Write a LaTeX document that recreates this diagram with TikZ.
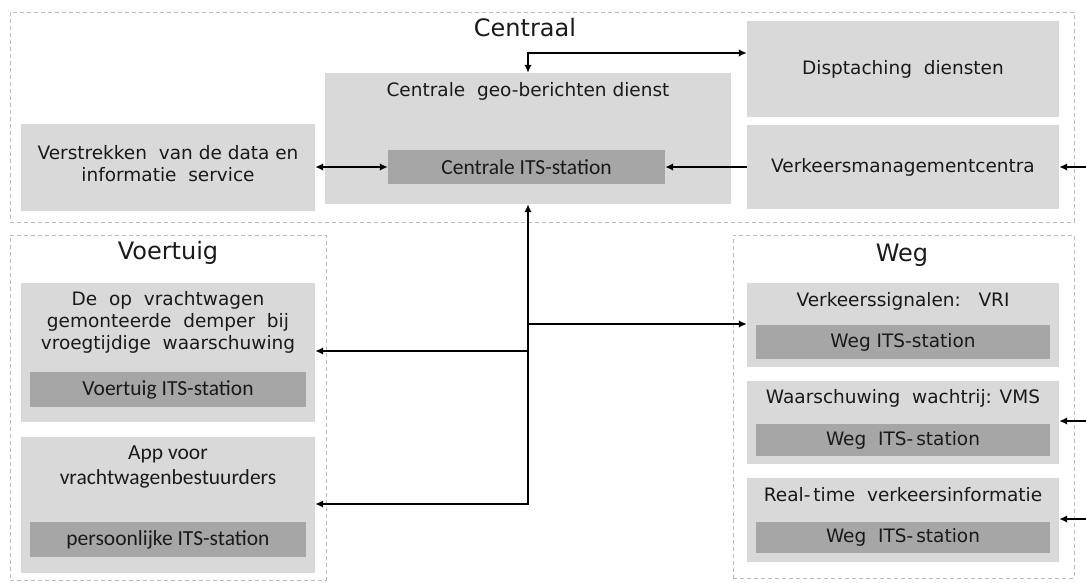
\documentclass[tikz,border=0pt]{standalone}
\usepackage{fontspec}
\setmainfont{DejaVu Sans}
\newfontfamily\calfont{Carlito}
\usetikzlibrary{arrows.meta}
\definecolor{boxgray}{HTML}{D9D9D9}
\definecolor{itsgray}{HTML}{A6A6A6}
\definecolor{framegray}{HTML}{BDBDBD}
\definecolor{txtcol}{HTML}{1A1A1A}
\begin{document}
\begin{tikzpicture}[x=1pt,y=-1pt,
  frame/.style={draw=framegray, dash pattern=on 4pt off 3pt, line width=0.9pt, inner sep=0pt},
  box/.style={fill=boxgray, inner sep=0pt, text=txtcol, font=\fontsize{18.5}{22}\selectfont, align=center},
  its/.style={fill=itsgray, inner sep=0pt, text=txtcol, font=\fontsize{18.5}{22}\selectfont},
  calits/.style={fill=itsgray, inner sep=0pt, text=txtcol, font=\calfont\fontsize{21.5}{25}\selectfont},
  ttl/.style={font=\fontsize{24}{28}\selectfont, inner sep=0pt, text=txtcol, anchor=base},
  txt/.style={font=\fontsize{18.5}{22}\selectfont, align=center, inner sep=0pt, text=txtcol},
  caltxt/.style={font=\calfont\fontsize{21.5}{25}\selectfont, align=center, inner sep=0pt, text=txtcol},
  tip/.tip={Latex[length=8pt,width=7.5pt]},
  conn/.style={line width=2.2pt, -tip},
  dconn/.style={line width=2.2pt, tip-tip},
]
\useasboundingbox (0,0) rectangle (1086,582);

% dashed frames
\node[frame, minimum width=1064pt, minimum height=210pt] (fC) at (542,117) {};
\node[frame, minimum width=316pt, minimum height=345pt] (fV) at (168,407.5) {};
\node[frame, minimum width=341pt, minimum height=343pt] (fW) at (903.5,406.5) {};

% frame titles
\node[ttl] (tC) at (525,36) {Centraal};
\node[ttl] (tV) at (168,259) {Voertuig};
\node[ttl] (tW) at (902,261) {Weg};

% Centraal
\node[box, minimum width=294pt, minimum height=87pt] (vs) at (168,167) {};
\node[txt] (vsT) at (168,164) {Verstrekken\ \ van de data en\\informatie\ \ service};
\node[box, minimum width=406pt, minimum height=131pt] (geo) at (528,138.5) {};
\node[txt, anchor=base] (geoT) at (528,96) {Centrale\ \ geo-berichten dienst};
\node[calits, minimum width=277pt, minimum height=34pt] (itsC) at (526.5,167) {Centrale ITS-station};
\node[box, minimum width=312pt, minimum height=96pt] (disp) at (903,69) {Disptaching\ \ diensten};
\node[box, minimum width=312pt, minimum height=84pt] (vmc) at (903,167) {Verkeersmanagementcentra};

% Voertuig
\node[box, minimum width=294pt, minimum height=139pt] (v1) at (168,352.5) {};
\node[txt] (v1T) at (168,322) {De\ \ op\ \ vrachtwagen\\gemonteerde\ \ demper\ \ bij\\vroegtijdige\ \ waarschuwing};
\node[calits, minimum width=276pt, minimum height=35pt] (v1its) at (168,389.5) {Voertuig ITS-station};
\node[box, minimum width=294pt, minimum height=136pt] (v2) at (168,505) {};
\node[caltxt] (v2T) at (168,467) {App voor\\vrachtwagenbestuurders};
\node[calits, minimum width=276pt, minimum height=35pt] (v2its) at (168,539.5) {persoonlijke ITS-station};

% Weg
\node[box, minimum width=312pt, minimum height=84pt] (w1) at (903,325) {};
\node[txt, anchor=base] (w1T) at (903,306) {Verkeerssignalen:\ \ \ VRI};
\node[its, minimum width=294pt, minimum height=34pt] (w1its) at (903,342) {Weg ITS-station};
\node[box, minimum width=312pt, minimum height=83pt] (w2) at (903,422.5) {};
\node[txt, anchor=base] (w2T) at (903,403) {Waarschuwing\ \ wachtrij: VMS};
\node[its, minimum width=294pt, minimum height=32pt] (w2its) at (903,440) {Weg\ \ ITS-\,station};
\node[box, minimum width=312pt, minimum height=84pt] (w3) at (903,520) {};
\node[txt, anchor=base] (w3T) at (903,501) {Real-\,time\ \ verkeersinformatie};
\node[its, minimum width=294pt, minimum height=31pt] (w3its) at (903,537.5) {Weg\ \ ITS-\,station};

% coordinates
\coordinate (topY) at (528,53);
\coordinate (j1) at (528,324);
\coordinate (j2) at (528,351);
\coordinate (j3) at (528,504);
\coordinate (eC) at (1086,167);
\coordinate (e2) at (1086,421);
\coordinate (e3) at (1086,519);

% connectors
\draw[dconn] (vs.east) -- (itsC.west);
\draw[conn] (vmc.west) -- (itsC.east);
\draw[conn] (eC) -- (vmc.east);
\draw[dconn] (geo.north) -- (topY) -- (topY -| disp.west);
\draw[dconn] (j3 -| v2.east) -- (j3) -- (geo.south);
\draw[conn] (j2) -- (j2 -| v1.east);
\draw[conn] (j1) -- (j1 -| w1.west);
\draw[conn] (e2) -- (e2 -| w2.east);
\draw[conn] (e3) -- (e3 -| w3.east);
\end{tikzpicture}
\end{document}
